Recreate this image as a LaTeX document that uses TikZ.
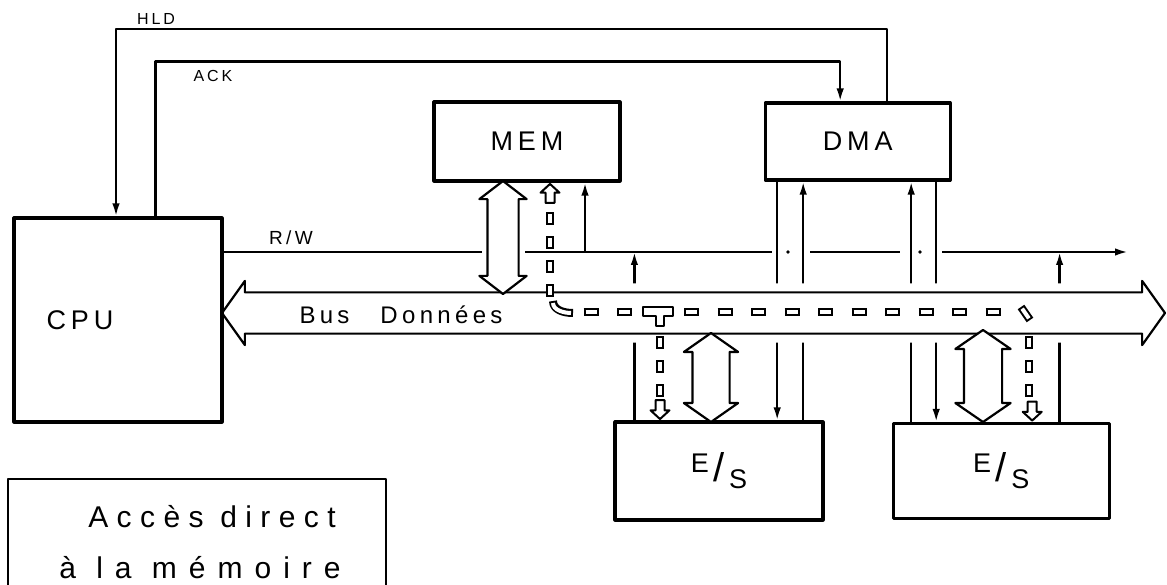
\documentclass[tikz,border=0pt]{standalone}
\usepackage{fontspec}
\setmainfont{Liberation Sans}
\newfontfamily\handfont[LetterSpace=18]{Liberation Sans}
\usetikzlibrary{arrows.meta,positioning,shapes.arrows}
\newcommand{\ES}{\raisebox{9pt}{E}\,{\fontsize{40}{40}\selectfont/}\,\raisebox{-7pt}{S}}

\begin{document}
\begin{tikzpicture}[x=1pt, y=-1pt, line join=round, every node/.style={font=\handfont}, unit/.style={draw, line width=3.2pt, inner sep=0pt, font=\handfont\fontsize{27}{29}\selectfont}, sig/.style={line width=2.3pt}, arr/.style={-{Latex[length=13pt, width=7.5pt]}}, wide/.style={double arrow, draw, line width=2.2pt, fill=white, inner xsep=0pt, double arrow head indent=0pt}, tip/.style={single arrow, draw, line width=2pt, fill=white, inner xsep=0pt, inner ysep=3.5pt, minimum height=19pt, minimum width=17pt, single arrow head extend=5pt, single arrow head indent=0pt, single arrow tip angle=95}, tag/.style={inner sep=0pt, font=\handfont\fontsize{16}{18}\selectfont}, hpipe/.style={line width=8pt, dash pattern=on 15pt off 18.5pt, postaction={draw=white, line width=4pt, dash pattern=on 11pt off 22.5pt, dash phase=31.5pt}}, vpipe/.style={line width=7.5pt, dash pattern=on 13pt off 11pt, postaction={draw=white, line width=3.5pt, dash pattern=on 9pt off 15pt, dash phase=22pt}}, piece/.style={line width=8pt, postaction={draw=white, line width=4pt, shorten <=2pt, shorten >=2pt}}]
\useasboundingbox (0,0) rectangle (1167,585);

% units on the bus
\node[unit, minimum width=186pt, minimum height=79pt] (mem) at (527,141.5) {MEM};
\node[unit, minimum width=185pt, minimum height=77pt, right=142pt of mem] (dma) {DMA};
\node[unit, minimum width=208pt, minimum height=98pt, font=\handfont\fontsize{27}{29}\selectfont] (es1) at (719,471) {\ES};
\node[unit, minimum width=216pt, minimum height=95pt, right=67pt of es1, font=\handfont\fontsize{27}{29}\selectfont] (es2) {\ES};

% DMA control lines
\coordinate (rw0) at (222,252);
\coordinate (rwend) at (1128,252);
\coordinate (d1) at ([xshift=-80.5pt]dma.south);
\coordinate (d2) at ([xshift=-54.5pt]dma.south);
\coordinate (d3) at ([xshift=53.5pt]dma.south);
\coordinate (d4) at ([xshift=78.5pt]dma.south);
\draw[sig, arr] (d1) -- (d1 |- es1.north);
\draw[sig, arr] (d2 |- es1.north) -- (d2);
\draw[sig, arr] (d3 |- es2.north) -- (d3);
\draw[sig, arr] (d4) -- (d4 |- es2.north);
\coordinate (e1) at ([xshift=21pt]es1.north west);
\coordinate (e2) at ([xshift=168pt]es2.north west);
\draw[sig, arr] (e1) -- (e1 |- rw0);
\draw[sig, arr] (e2) -- (e2 |- rw0);

% data bus
\node[wide, minimum height=943pt, inner ysep=19.5pt, double arrow head extend=11.5pt, double arrow tip angle=109, preaction={draw=white, line width=18pt}] (bus) at (693.5,313) {};
\node[font=\handfont\fontsize{24}{26}\selectfont] (bustxt) at (401,315) {Bus\hspace{20pt} Données};

\node[unit, minimum width=208pt, minimum height=204pt] (cpu) at (118,320) {CPU\kern76pt};

% HLD / ACK
\coordinate (hldc) at (116,29);
\draw[sig, arr] ([xshift=29.5pt]dma.north) |- (hldc) -- (hldc |- cpu.north);
\draw[sig, arr] ([xshift=143pt]cpu.north west) |- ([xshift=-17.5pt, yshift=40pt]dma.north) -- ([xshift=-17.5pt]dma.north);
\node[tag] (hld) at (156,19) {HLD};
\node[tag] (ack) at (213,76) {ACK};

% R/W
\draw[sig] (rw0) -- (482,252) (525,252) -- (772,252) (810,252) -- (900,252);
\draw[sig, arr] (942,252) -- (rwend);
\fill (788,252) circle (1.9pt) (920,252) circle (1.9pt);
\coordinate (m1) at ([xshift=58pt]mem.south);
\draw[sig, arr] (m1 |- rw0) -- (m1);
\node[tag, font=\handfont\fontsize{19}{21}\selectfont] (rw) at (291,238) {R/W};

% transfers
\node[wide, rotate=90, minimum height=113pt, inner ysep=14.5pt, double arrow head extend=8pt, double arrow tip angle=105] (memio) at (503,237.5) {};
\node[wide, rotate=90, minimum height=89pt, inner ysep=17.5pt, double arrow head extend=8.5pt, double arrow tip angle=110] (es1io) at (711,377.5) {};
\node[wide, rotate=90, minimum height=92pt, inner ysep=18pt, double arrow head extend=8.5pt, double arrow tip angle=111] (es2io) at (983,376) {};

% DMA path
\draw[hpipe] (583.5,312) -- (1001,312);
\draw[piece] (553,301) to[out=-90, in=180] (573,313);
\draw[piece] (1021,307) -- (1030,320);
\draw[line width=2pt, fill=white] (643,307) -- (673,307) -- (673,316) -- (664,316) -- (664,326) -- (656,326) -- (656,316) -- (643,316) -- cycle;
\draw[vpipe] (550,297) -- (550,199);
\draw[vpipe] (660,336) -- (660,404);
\draw[vpipe] (1029,336) -- (1029,404);
\node[tip, rotate=90, anchor=tip] (memtip) at ([xshift=23pt]mem.south) {};
\node[tip, rotate=-90, anchor=tip] (es1tip) at ([xshift=-59pt]es1.north) {};
\node[tip, rotate=-90, anchor=tip] (es2tip) at ([xshift=31pt]es2.north) {};

% caption
\node[anchor=base, align=center, inner sep=0pt, font=\handfont\fontsize{30}{51}\selectfont] (note) at (200,578) {\hspace*{24pt}\addfontfeature{LetterSpace=28}Accès direct\\\addfontfeature{LetterSpace=40}à la mémoire};
\draw[line width=2.2pt] (8,600) |- (386,479) -- (386,600);
\end{tikzpicture}
\end{document}
